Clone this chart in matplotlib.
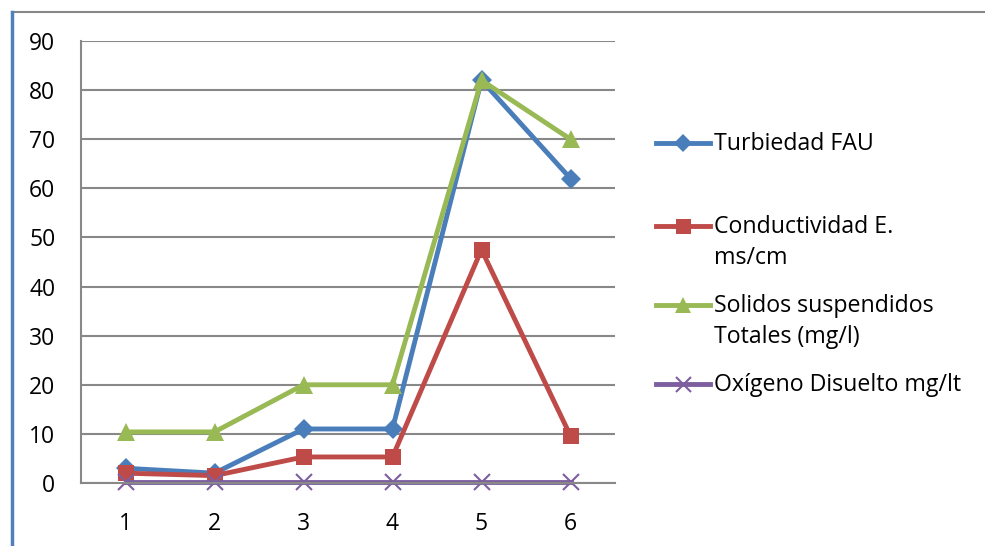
import matplotlib.pyplot as plt
from matplotlib.lines import Line2D

plt.rcParams['font.family'] = ['Open Sans', 'DejaVu Sans']

x = [1, 2, 3, 4, 5, 6]
turbiedad = [3.0, 2.0, 11.0, 11.0, 82.0, 62.0]
conductividad = [2.0, 1.5, 5.3, 5.3, 47.5, 9.6]
solidos = [10.4, 10.4, 20.0, 20.0, 82.0, 70.0]
oxigeno = [0.3, 0.3, 0.3, 0.3, 0.3, 0.3]

labels = ['Turbiedad FAU', 'Conductividad E.\nms/cm',
          'Solidos suspendidos\nTotales (mg/l)', 'Oxígeno Disuelto mg/lt']
colors = ['#4A7EBB', '#BE4B48', '#98B954', '#7D5FA0']
markers = ['D', 's', '^', 'x']
msizes = [10, 12, 13, 12]

W, H = 985, 546
fig = plt.figure(figsize=(W / 100, H / 100), dpi=100)
ax = fig.add_axes([81 / W, 1 - 483 / H, (615 - 81) / W, (483 - 41) / H])

series = [turbiedad, conductividad, solidos, oxigeno]
for vals, c, m, ms in zip(series, colors, markers, msizes):
    ax.plot(x, vals, color=c, lw=3.5, marker=m, ms=ms,
            mew=1.5 if m == 'x' else 0, mec=c, clip_on=False)

ax.set_xlim(0.5, 6.5)
ax.set_ylim(0, 90)
ax.set_yticks(range(0, 91, 10))
ax.set_xticks(x)
ax.grid(axis='y', color='#888888', lw=1.5)
ax.set_axisbelow(True)
for s in ['top', 'right']:
    ax.spines[s].set_visible(False)
for s in ['left', 'bottom']:
    ax.spines[s].set_color('#888888')
    ax.spines[s].set_linewidth(1.5)
ax.tick_params(length=0, labelsize=16.5, colors='black')
ax.tick_params(axis='y', pad=18.5)
ax.tick_params(axis='x', pad=21)

# legend drawn by hand to match the Excel layout
leg_y = [143, 226, 305, 384]
for lab, c, m, ms, yy in zip(labels, colors, markers, msizes, leg_y):
    yf = 1 - yy / H
    fig.add_artist(Line2D([656 / W, 683 / W, 710 / W], [yf, yf, yf], color=c,
                          lw=3.5, marker=m, ms=ms * 0.9, markevery=[1],
                          mew=1.5 if m == 'x' else 0, mec=c))
    for i, line in enumerate(lab.split('\n')):
        fig.text(714 / W, 1 - (yy + 1 + 31 * i) / H, line, fontsize=16.7,
                 va='center', ha='left')

# outer frame
fig.add_artist(Line2D([12 / W, 1], [1 - 12 / H, 1 - 12 / H], color='#888888', lw=1.5))
fig.add_artist(Line2D([11.5 / W, 11.5 / W], [0, 1 - 12 / H], color='#4F81BD', lw=2.5))

fig.savefig('out.png', dpi=100)
